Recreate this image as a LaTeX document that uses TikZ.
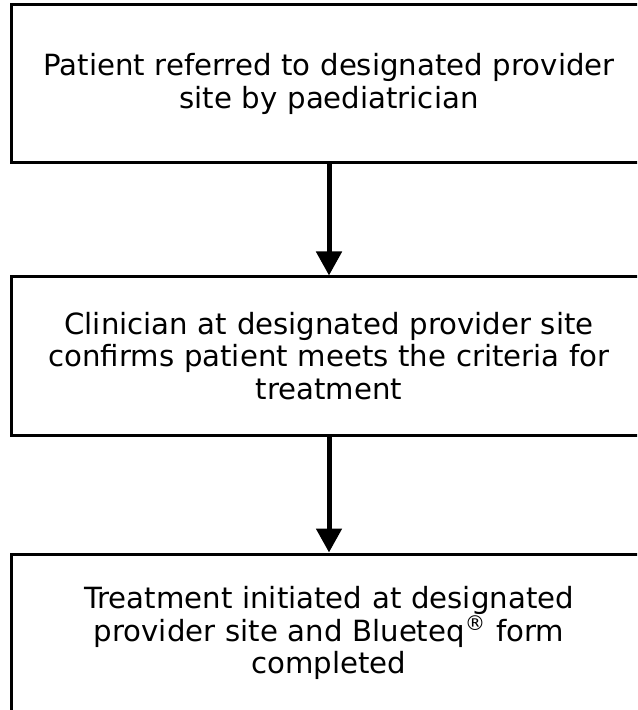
\documentclass[tikz,border=0pt]{standalone}
\usepackage{fontspec}
\setmainfont{DejaVu Sans}
\usetikzlibrary{arrows.meta}

\tikzset{
  stagebox/.style={draw=black, line width=1.5pt, minimum width=318pt, minimum height=79pt,
    text width=310pt, align=center, inner sep=0pt, font=\fontsize{14.6}{16.3}\selectfont},
  flowarrow/.style={line width=2.5pt, arrows={-{Triangle[length=12pt,width=12.5pt]}}}
}

\begin{document}
\begin{tikzpicture}[x=0.5pt,y=-0.5pt]
      \useasboundingbox (0,0) rectangle (637,710);
      \clip (0,0) rectangle (637,710);

      \node[stagebox] (referral) at (329,84) {Patient referred to designated provider\\site by paediatrician};
      \node[stagebox] (confirm) at (329,356) {Clinician at designated provider site\\confirms patient meets the criteria for\\treatment};
      \node[stagebox] (treat) at (329,633) {Treatment initiated at designated\\provider site and Blueteq\textsuperscript{\textregistered} form\\completed};

      \draw[flowarrow] (referral) to (confirm);
      \draw[flowarrow] (confirm) to (treat);
    \end{tikzpicture}
\end{document}
